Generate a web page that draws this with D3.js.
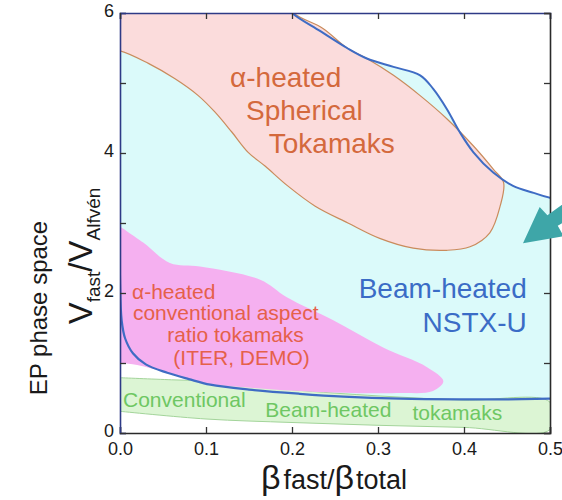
<!DOCTYPE html>
<html lang="en">
<head>
<meta charset="utf-8">
<title>EP phase space</title>
<script src="https://d3js.org/d3.v7.min.js"></script>
<style>
  body { margin: 0; background: #fff; }
  text { font-family: "Liberation Sans", Arial, Helvetica, sans-serif; }
</style>
</head>
<body>
<svg width="562" height="500"></svg>
<script>
// boundaries, [beta_fast/beta_total, V_fast/V_Alfven]
var beamTop = [[0.18,6.3],[0.198,6.02],[0.233,5.74],[0.264,5.5],[0.287,5.35],[0.318,5.23],[0.349,5.11],
               [0.364,4.92],[0.38,4.63],[0.395,4.3],[0.411,4.01],[0.434,3.72],[0.457,3.53],[0.481,3.43],[0.5,3.36],[0.53,3.3]];
var beamBottom = [[0,6],[0,2.2],[0.002,1.6],[0.006,1.35],[0.015,1.14],[0.03,0.98],[0.055,0.86],[0.08,0.77],
                  [0.105,0.69],[0.15,0.62],[0.209,0.56],[0.26,0.52],[0.326,0.49],[0.4,0.48],[0.45,0.48],[0.5,0.49],[0.53,0.49]];
var sphLower = [[0,5.46],[0.033,5.28],[0.064,5.06],[0.091,4.82],[0.11,4.59],[0.13,4.3],[0.149,4.01],[0.169,3.81],
                [0.195,3.53],[0.227,3.24],[0.265,3.0],[0.302,2.78],[0.341,2.64],[0.38,2.61],[0.407,2.66],[0.43,2.86],[0.442,3.24],[0.446,3.58]];
var sphUpper = [[0.434,3.77],[0.411,4.1],[0.38,4.49],[0.349,4.82],[0.318,5.11],[0.287,5.35],[0.264,5.5],[0.236,5.78],[0.2,6.02],[0.19,6.3]];
var convAlpha = [[0,2.95],[0.027,2.72],[0.058,2.43],[0.093,2.38],[0.163,2.19],[0.194,1.94],[0.248,1.61],[0.306,1.22],
                 [0.357,0.94],[0.376,0.74],[0.364,0.6],[0.326,0.57],[0.248,0.58],[0.171,0.63],[0.093,0.72],[0.055,0.86],[0.02,0.97],[0,1.0]];
var convBeamTop = [[0,0.79],[0.06,0.76],[0.128,0.73],[0.2,0.62],[0.3,0.53],[0.4,0.47],[0.5,0.44]];
var convBeamBottom = [[0,0.31],[0.1,0.2],[0.2,0.15],[0.3,0.11],[0.4,0.08],[0.5,0.05]];
var xTicks = [0, 0.1, 0.2, 0.3, 0.4, 0.5];
var yTicks = [0, 1, 2, 3, 4, 5, 6];
var yLabels = [0, 2, 4, 6];
var arrowPts = [[0.4686,2.71],[0.488,3.23],[0.497,3.11],[0.535,3.45],[0.55,3.27],[0.509,2.96],[0.516,2.81]];

var svg = d3.select("svg");
var x = d3.scaleLinear().domain([0, 0.5]).range([120, 550]),
    y = d3.scaleLinear().domain([0, 6]).range([433, 13]);

var line = d3.line().x(function(d){ return x(d[0]); }).y(function(d){ return y(d[1]); })
             .curve(d3.curveCatmullRom.alpha(0.5));

svg.append("clipPath").attr("id", "plot")
   .append("rect").attr("x", 120).attr("y", 13).attr("width", 430).attr("height", 420);
var g = svg.append("g").attr("clip-path", "url(#plot)");

// beam-heated NSTX-U region
var cyan = [[-0.03,6.3]].concat(beamTop, [[0.53,0.49]], beamBottom.slice().reverse());
g.append("path").attr("d", line(cyan) + "Z").attr("fill", "#dbfafa");

// conventional beam-heated tokamaks
var green = convBeamTop.concat(convBeamBottom.slice().reverse());
g.append("path").attr("d", line(green) + "Z").attr("fill", "#dcf5d4").attr("stroke", "#a3d49a").attr("stroke-width", 1);

// alpha-heated conventional aspect ratio
g.append("path").attr("d", line(convAlpha.concat([[-0.03,1.0],[-0.03,2.95]])) + "Z").attr("fill", "#f5b0f0");

// alpha-heated spherical tokamaks
var pink = [[-0.03,5.5]].concat(sphLower, sphUpper, [[-0.03,6.3]]);
g.append("path").attr("d", line(pink) + "Z").attr("fill", "#fbdcdc").attr("stroke", "#c98b5c").attr("stroke-width", 1.2);

// blue boundary lines
g.append("path").attr("d", line(beamTop)).attr("fill", "none").attr("stroke", "#3f6cc4").attr("stroke-width", 2);
g.append("path").attr("d", line(beamBottom)).attr("fill", "none").attr("stroke", "#3f6cc4").attr("stroke-width", 2.2);

// axes
var fs = "18px";
var ax = svg.append("g").attr("transform", "translate(0,433)")
  .call(d3.axisBottom(x).tickValues(xTicks).tickFormat(d3.format(".1f")).tickSize(-6).tickPadding(9));
var ay = svg.append("g").attr("transform", "translate(120,0)")
  .call(d3.axisLeft(y).tickValues(yTicks).tickFormat(function(d){ return yLabels.indexOf(d) >= 0 ? d : ""; }).tickSize(-6).tickPadding(6));
var at = svg.append("g").attr("transform", "translate(0,13)")
  .call(d3.axisTop(x).tickValues(xTicks).tickFormat("").tickSize(-6));
var ar = svg.append("g").attr("transform", "translate(550,0)")
  .call(d3.axisRight(y).tickValues(yTicks).tickFormat("").tickSize(-6));
[ax, ay, at, ar].forEach(function(a){
  a.selectAll("text").style("font-size", fs).attr("fill", "#1a1a1a");
  a.selectAll("line").attr("stroke", "#333").attr("stroke-width", 1.3);
  a.select(".domain").attr("stroke", "#2a2a2a").attr("stroke-width", 1.6);
});
ay.selectAll("text").attr("dy", "0.22em");
ay.select(".domain").attr("stroke", "#2e3a86");
at.select(".domain").attr("stroke", "#2e3a86");

// arrow
svg.append("path").attr("d", d3.line().x(function(d){ return x(d[0]); }).y(function(d){ return y(d[1]); })(arrowPts) + "Z")
   .attr("fill", "#3ea6a8");

// region labels
function label(txt, b, v, size, color, anchor) {
  svg.append("text").attr("x", x(b)).attr("y", y(v)).text(txt)
     .style("font-size", size).attr("fill", color).attr("text-anchor", anchor || "start");
}
label("α-heated", 0.128, 4.94, "28px", "#d4693c");
label("Spherical", 0.1465, 4.47, "28px", "#d4693c");
label("Tokamaks", 0.173, 4.0, "28px", "#d4693c");
label("Beam-heated", 0.473, 1.93, "28px", "#3a6cc6", "end");
label("NSTX-U", 0.473, 1.44, "28px", "#3a6cc6", "end");
label("α-heated", 0.014, 1.92, "21px", "#e5604a");
label("conventional aspect", 0.015, 1.61, "21px", "#e5604a");
label("ratio tokamaks", 0.055, 1.3, "21px", "#e5604a");
label("(ITER, DEMO)", 0.062, 0.97, "21px", "#e5604a");
label("Conventional", 0.0035, 0.37, "21px", "#6ec763");
label("Beam-heated", 0.169, 0.23, "21px", "#6ec763");
label("tokamaks", 0.34, 0.19, "21px", "#6ec763");

// axis titles
var xt = svg.append("text").attr("x", 334).attr("y", 489).attr("text-anchor", "middle").attr("fill", "#1a1a1a");
xt.append("tspan").text("β").style("font-size", "34px");
xt.append("tspan").text("fast/").style("font-size", "27px").attr("dx", 3);
xt.append("tspan").text("β").style("font-size", "34px");
xt.append("tspan").text("total").style("font-size", "27px").attr("dx", 2);

var yt = svg.append("text").attr("transform", "translate(92,256) rotate(-90)").attr("text-anchor", "middle").attr("fill", "#1a1a1a");
yt.append("tspan").text("V").style("font-size", "33px");
yt.append("tspan").text("fast").style("font-size", "19px").attr("dy", 8);
yt.append("tspan").text("/V").style("font-size", "33px").attr("dy", -8);
yt.append("tspan").text("Alfvén").style("font-size", "19px").attr("dy", 8);

svg.append("text").attr("transform", "translate(47,308) rotate(-90)").attr("text-anchor", "middle")
   .style("font-size", "24px").attr("fill", "#1a1a1a").text("EP phase space");
</script>
</body>
</html>
